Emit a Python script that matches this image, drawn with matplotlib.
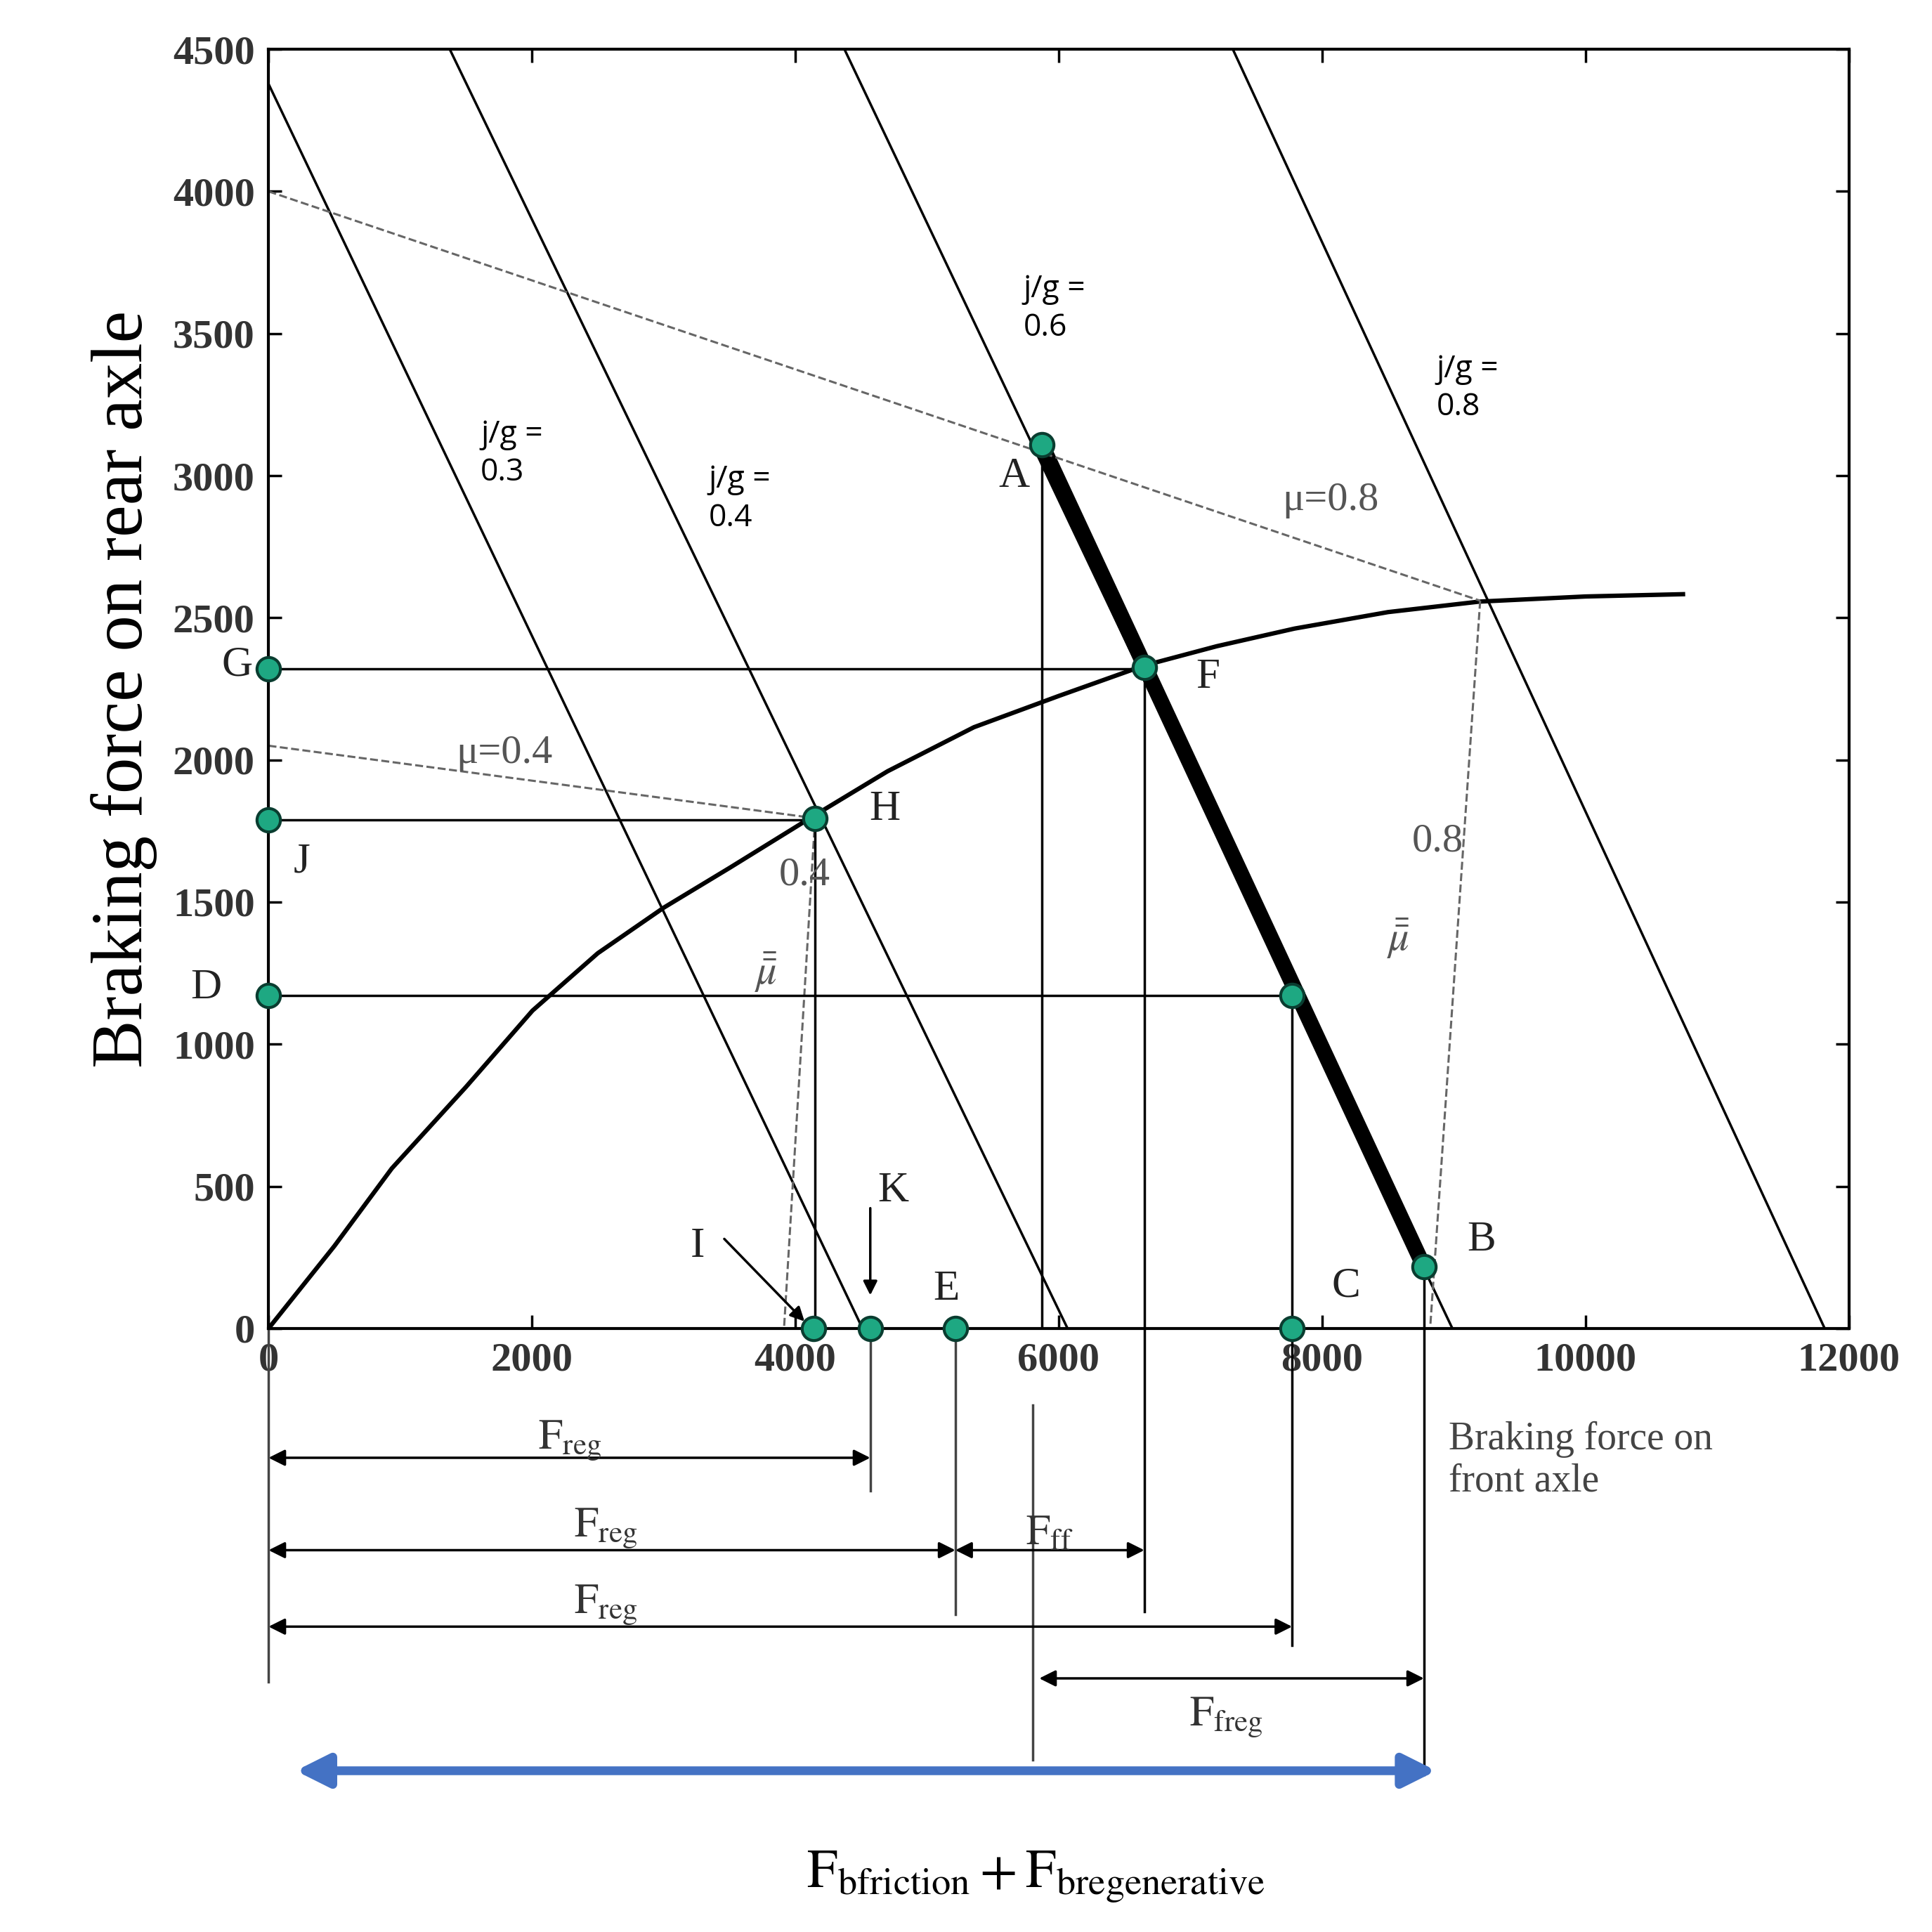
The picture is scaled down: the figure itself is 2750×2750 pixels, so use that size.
import matplotlib
matplotlib.use("Agg")
import matplotlib.pyplot as plt
plt.rcParams["mathtext.fontset"] = "stix"

# data
curve_x = [0, 500, 936, 1500, 2004, 2500, 3000, 3500, 4139, 4700, 5356, 6000, 6648, 7200, 7790, 8500, 9195, 10000, 10740]
curve_y = [0, 290, 563, 850, 1118, 1320, 1480, 1620, 1803, 1960, 2115, 2225, 2332, 2400, 2462, 2520, 2557, 2575, 2583]
jg_lines = {"0.3": [(0, 4378), (4510, 0)], "0.4": [(1376, 4500), (6067, 0)],
            "0.6": [(4373, 4500), (8989, 0)], "0.8": [(7322, 4500), (11816, 0)]}
jg_label_pos = {"0.3": (1610, 3200), "0.4": (3343, 3040), "0.6": (5730, 3710), "0.8": (8867, 3430)}
points = {"A": (5870, 3110), "F": (6650, 2325), "G": (0, 2320), "H": (4150, 1795),
          "J": (0, 1790), "D": (0, 1170), "Dp": (7772, 1170), "C": (7772, 0),
          "B": (8773, 217), "I": (4139, 0), "K": (4569, 0), "E": (5215, 0)}
labels = {"A": (5543, 2960), "F": (7041, 2254), "G": (-356, 2297), "H": (4560, 1790),
          "J": (187, 1604), "D": (-590, 1162), "C": (8071, 113), "B": (9101, 273),
          "E": (5047, 100), "I": (3202, 251), "K": (4625, 446)}

fig = plt.figure(figsize=(27.5, 27.5), dpi=100)
ax = fig.add_axes([0.139, 0.3124, 0.818, 0.6621])
ax.set_xlim(0, 12000); ax.set_ylim(0, 4500)
ax.set_xticks(range(0, 12001, 2000)); ax.set_yticks(range(0, 4501, 500))
ax.tick_params(direction="in", top=True, right=True, length=14, width=2.5, labelsize=42, pad=14)
for lab in ax.get_xticklabels() + ax.get_yticklabels():
    lab.set_fontfamily("Liberation Serif"); lab.set_fontweight("bold"); lab.set_color("#333")
for s in ax.spines.values():
    s.set_linewidth(3)
ax.set_ylabel("Braking force on rear axle", fontsize=74, family="Liberation Serif", labelpad=16)

lw = 2.5
for k, ((x0, y0), (x1, y1)) in jg_lines.items():
    ax.plot([x0, x1], [y0, y1], color="k", lw=lw)
    px, py = jg_label_pos[k]
    ax.text(px, py, "j/g =\n" + k, fontsize=32, family="Open Sans", va="top", linespacing=1.3)
ax.plot(curve_x, curve_y, color="k", lw=4.5)
A, B = points["A"], points["B"]
ax.plot([A[0], B[0]], [A[1], B[1]], color="k", lw=16, solid_capstyle="butt")

dc = "#666"
ax.plot([0, 9200], [4000, 2560], ls="--", color=dc, lw=2.2)
ax.plot([9200, 8820], [2560, 0], ls="--", color=dc, lw=2.2)
ax.plot([0, 4150], [2050, 1795], ls="--", color=dc, lw=2.2)
ax.plot([4150, 3914], [1795, 0], ls="--", color=dc, lw=2.2)
tk = dict(family="Liberation Serif", color="#555", fontsize=42)
ax.text(7700, 2880, "μ=0.8", **tk); ax.text(1423, 1990, "μ=0.4", **tk)
ax.text(8680, 1680, "0.8", **tk); ax.text(8490, 1330, "$\\bar{\\bar{\\mu}}$", **tk)
ax.text(3876, 1560, "0.4", **tk); ax.text(3690, 1210, "$\\bar{\\bar{\\mu}}$", **tk)

# guide lines
ax.plot([0, 6650], [2320, 2320], "k", lw=lw)
ax.plot([0, 4150], [1790, 1790], "k", lw=lw)
ax.plot([0, 7772], [1170, 1170], "k", lw=lw)
ax.plot([5870, 5870], [3110, 0], "k", lw=lw)
ax.plot([4150, 4150], [1795, 0], "k", lw=lw)
kw = dict(color="k", lw=lw, clip_on=False)
ax.plot([6650, 6650], [2325, -997], **kw)
ax.plot([7772, 7772], [1170, -1114], **kw)
ax.plot([8773, 8773], [217, -1569], **kw)
ax.plot([0, 0], [0, -1244], color="#444", lw=lw, clip_on=False)
ax.plot([4569, 4569], [0, -572], color="#444", lw=lw, clip_on=False)
ax.plot([5215, 5215], [0, -1006], color="#444", lw=lw, clip_on=False)
ax.plot([5805, 5805], [-270, -1517], color="#444", lw=lw, clip_on=False)

for name, (x, y) in points.items():
    ax.plot(x, y, "o", ms=24, mfc="#1ea882", mec="#0a3d30", mew=3, clip_on=False, zorder=10)
for name, (x, y) in labels.items():
    ax.text(x, y, name, fontsize=44, family="Liberation Serif", color="#222")
ax.annotate("", xy=(4080, 20), xytext=(3450, 320),
            arrowprops=dict(arrowstyle="-|>", lw=2.5, color="k", mutation_scale=30))
ax.annotate("", xy=(4569, 110), xytext=(4569, 430),
            arrowprops=dict(arrowstyle="-|>", lw=2.5, color="k", mutation_scale=30))

def darrow(x0, x1, y, color="k", lw=2.5, ms=35):
    ax.annotate("", xy=(x1, y), xytext=(x0, y), annotation_clip=False,
                arrowprops=dict(arrowstyle="<|-|>", lw=lw, color=color, mutation_scale=ms,
                                shrinkA=0, shrinkB=0))

darrow(0, 4569, -455); darrow(0, 5215, -780); darrow(5215, 6650, -780)
darrow(0, 7772, -1049); darrow(5852, 8773, -1231)
darrow(206, 8867, -1556, color="#4472C4", lw=9, ms=70)
mt = dict(fontsize=44, color="#333", ha="center", va="center", clip_on=False)
ax.text(2290, -395, "$\\mathrm{F_{reg}}$", **mt)
ax.text(2560, -705, "$\\mathrm{F_{reg}}$", **mt)
ax.text(2560, -975, "$\\mathrm{F_{reg}}$", **mt)
ax.text(5930, -720, "$\\mathrm{F_{ff}}$", **mt)
ax.text(7270, -1370, "$\\mathrm{F_{freg}}$", **mt)
ax.text(8960, -464, "Braking force on\nfront axle", fontsize=40, family="Liberation Serif",
        color="#444", va="center", clip_on=False)
ax.text(5824, -1930, "$\\mathrm{F_{bfriction}} + \\mathrm{F_{bregenerative}}$", fontsize=56,
        ha="center", va="center", clip_on=False)
fig.savefig("out.png", dpi=100)
